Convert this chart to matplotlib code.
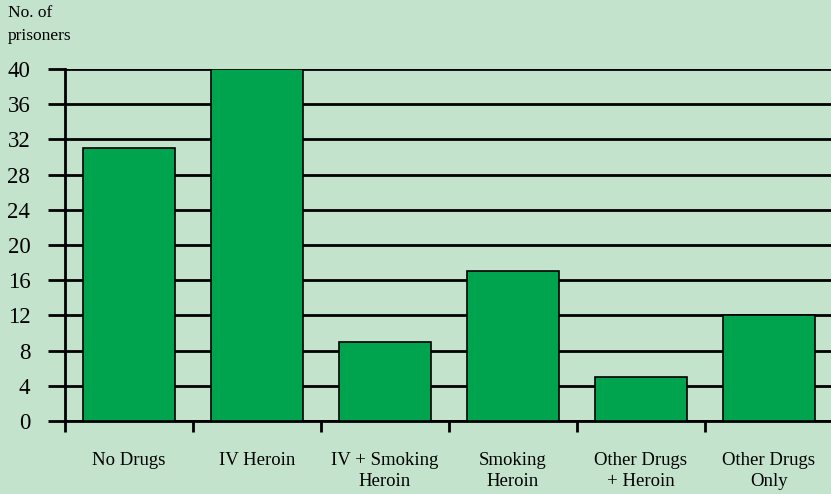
import matplotlib
matplotlib.use("Agg")
import matplotlib.pyplot as plt
import numpy as np

categories = ["No Drugs", "IV Heroin", "IV + Smoking\nHeroin", "Smoking\nHeroin",
              "Other Drugs\n+ Heroin", "Other Drugs\nOnly"]
prisoners = [31, 40, 9, 17, 5, 12]
yticks = [0, 4, 8, 12, 16, 20, 24, 28, 32, 36, 40]

bg = "#c3e3cc"
bar_color = "#00a44f"

plt.rcParams["font.family"] = ["Liberation Serif", "DejaVu Serif"]

fig = plt.figure(figsize=(8.31, 4.94), dpi=100, facecolor=bg)
ax = fig.add_axes([65 / 831, 1 - 421 / 494, 768 / 831, 352 / 494])
ax.set_facecolor(bg)

x = np.arange(len(categories))
ax.bar(x, prisoners, width=0.72, color=bar_color, edgecolor="black", linewidth=1.2, zorder=3)

ax.set_xlim(-0.5, len(categories) - 0.5)
ax.set_ylim(0, 40)
ax.set_yticks(yticks)
ax.set_yticklabels([str(v) for v in yticks], fontsize=16.5)
ax.yaxis.grid(True, color="black", linewidth=2, zorder=1)
ax.set_axisbelow(True)
ax.tick_params(axis="y", length=12, width=2, pad=13, color="black")

ax.set_xticks(x)
ax.set_xticklabels(categories, fontsize=13.5, linespacing=1.35)
ax.set_xticks(np.arange(len(categories) + 1) - 0.5, minor=True)
ax.tick_params(axis="x", which="major", length=0, pad=22)
ax.tick_params(axis="x", which="minor", length=8, width=2, color="black")

for s in ["top", "right"]:
    ax.spines[s].set_visible(False)
ax.spines["left"].set_linewidth(2)
ax.spines["bottom"].set_linewidth(2)

fig.text(8 / 831, 1 - 5 / 494, "No. of\nprisoners", fontsize=12.5, va="top", ha="left",
         linespacing=1.55)

fig.savefig("out.png", dpi=100, facecolor=bg)
